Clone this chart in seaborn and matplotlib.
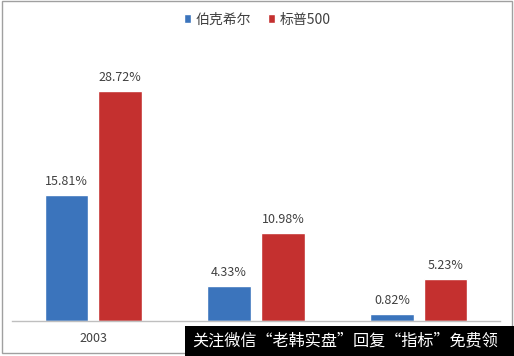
import matplotlib
matplotlib.use('Agg')
import matplotlib.pyplot as plt
from matplotlib.patches import Rectangle
import pandas as pd
import seaborn as sns

# 数据
years = ["2003", "2008", "2013"]
tick_labels = ["2003", "", ""]  # 后两个被水印遮住
berkshire = [15.81, 4.33, 0.82]
sp500 = [28.72, 10.98, 5.23]
series_names = ["伯克希尔", "标普500"]
colors = ["#3B74BC", "#C4302F"]

df = pd.DataFrame({
    "year": years * 2,
    "value": berkshire + sp500,
    "series": [series_names[0]] * len(years) + [series_names[1]] * len(years),
})

sns.set_theme(style="white")
plt.rcParams['font.family'] = ['Noto Sans CJK SC', 'DejaVu Sans']

fig = plt.figure(figsize=(5.14, 3.56), dpi=100)
ax = fig.add_axes([12 / 514, 1 - 321 / 356, 488 / 514, 280 / 356])

sns.barplot(data=df, x="year", y="value", hue="series", palette=colors,
            width=0.66, gap=0.185, saturation=1, ax=ax, legend=True)

ax.set_xlim(-0.5, 2.5)
ax.set_ylim(0, 35)
ax.set_xlabel("")
ax.set_ylabel("")
ax.set_yticks([])
ax.set_xticks(range(len(years)))
ax.set_xticklabels(tick_labels)
for s in ["top", "right", "left"]:
    ax.spines[s].set_visible(False)
ax.spines["bottom"].set_color("#BFBFBF")
ax.spines["bottom"].set_linewidth(1)
ax.tick_params(axis="x", length=0, pad=8, labelsize=9, labelcolor="#404040")

# 数值标签
for cont in ax.containers:
    ax.bar_label(cont, labels=[f"{v:.2f}%" for v in cont.datavalues],
                 padding=5, fontsize=9, color="#404040")

# 图例
ax.legend(loc="upper center", bbox_to_anchor=(257 / 514, 1.0), bbox_transform=fig.transFigure,
          ncol=2, frameon=False, fontsize=10, handlelength=0.55, handleheight=0.55,
          handletextpad=0.3, columnspacing=1.2, labelcolor="#404040")

# 外框
fig.patches.append(Rectangle((0.003, 0.008), 0.993, 0.989, transform=fig.transFigure,
                             fill=False, edgecolor="#A0A0A0", linewidth=1))

# 水印
fig.patches.append(Rectangle((185 / 514, 0), 329 / 514, 30 / 356, transform=fig.transFigure,
                             facecolor="black", edgecolor="none", zorder=5))
fig.text(192 / 514, 15 / 356, "关注微信“老韩实盘”回复“指标”免费领", color="white",
         fontsize=11.6, ha="left", va="center", zorder=6)

fig.savefig("out.png", dpi=100)
